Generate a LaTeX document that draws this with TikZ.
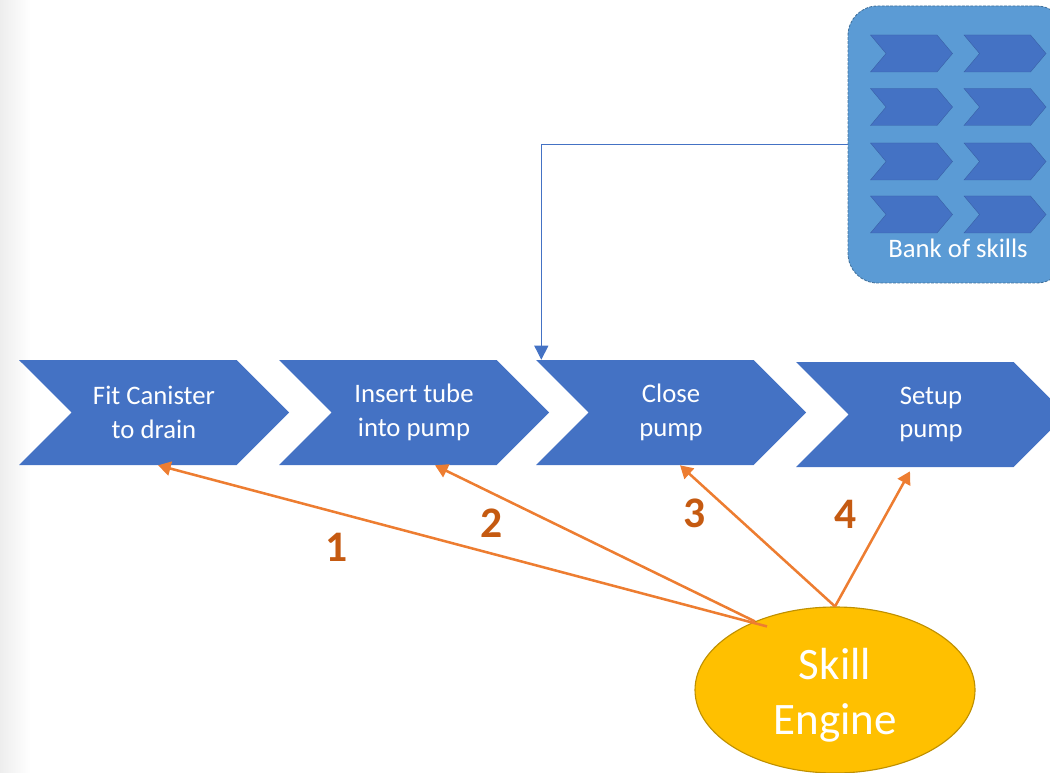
\documentclass[tikz,border=0pt]{standalone}
\usepackage{fontspec}
\setmainfont{Carlito}
\usetikzlibrary{shapes.symbols,shapes.geometric,arrows.meta}
\definecolor{chevblue}{HTML}{4472C4}
\definecolor{bankblue}{HTML}{5B9BD5}
\definecolor{bankline}{HTML}{41719C}
\definecolor{orangeline}{HTML}{ED7D31}
\definecolor{numorange}{HTML}{C55A11}
\definecolor{enginefill}{HTML}{FFC000}
\definecolor{engineline}{HTML}{BF9000}

\begin{document}
\begin{tikzpicture}[x=0.025cm,y=-0.025cm]
	\tikzset{
	stage/.style={signal, signal from=west, signal to=east, signal pointer angle=90, fill=chevblue, text=white, align=center, minimum width=270*0.025cm, minimum height=105*0.025cm, inner sep=0pt, font=\fontsize{19}{24}\selectfont},
	skill/.style={signal, signal from=west, signal to=east, signal pointer angle=100, fill=chevblue, draw=chevblue!85!black, line width=0.3pt, minimum width=82*0.025cm, minimum height=37*0.025cm, inner sep=0pt},
	pick/.style={-{Triangle[length=9pt,width=10pt]}, orangeline, line width=1.8pt},
	flow/.style={-{Triangle[length=10pt,width=10pt]}, chevblue, line width=0.7pt},
	num/.style={numorange, font=\fontsize{31}{36}\selectfont\bfseries}}

	\def\pix{0.025cm}

	\useasboundingbox (0,0) rectangle (1050,773);
	\clip (0,0) rectangle (1050,773);
	\shade[left color=black!7, right color=white] (0,0) rectangle (30,773);

	% procedure
	\node (fit) [stage] at (154,412.5) {Fit Canister\\to drain};
	\node (insert) [stage] at (414,412.5) {Insert tube\\into pump};
	\node (close) [stage] at (671,412.5) {Close\\pump};
	\node (setup) [stage] at (931,414.5) {Setup\\pump};

	% bank
	\node (bank) [rectangle, rounded corners=21pt, fill=bankblue, draw=bankline, dash pattern=on 2pt off 1pt, line width=0.6pt, minimum width=218*\pix, minimum height=277*\pix] at (957,144.5) {};
	\foreach \col/\cx in {1/911.5, 2/1005}
		\foreach \row/\cy in {1/53.5, 2/107, 3/161.5, 4/214.5}
			\node (skill-\row-\col) [skill] at (\cx,\cy) {};
	\node (banklabel) [text=white, font=\fontsize{19}{24}\selectfont] at (958,248) {Bank of skills};

	\draw[flow] (bank.west) -| ([xshift=6*\pix]close.north west);

	% engine
	\node (engine) [ellipse, fill=enginefill, draw=engineline, line width=0.8pt, minimum width=280*\pix, minimum height=166*\pix, inner sep=0pt, text=white, align=center, font=\fontsize{32}{40}\selectfont] at (835,690) {\raisebox{-0.14cm}[\height][\depth]{\begin{tabular}{@{}c@{}}Skill\\[-1pt]Engine\end{tabular}}};

	\draw[pick] ([shift={(-68,20)}]engine.north) -- ([xshift=4*\pix]fit.south);
	\draw[pick] ([shift={(-80,15)}]engine.north) -- ([xshift=21*\pix]insert.south);
	\draw[pick] (engine.north) -- ([xshift=9*\pix]close.south);
	\draw[pick] (engine.north) -- ([xshift=-21*\pix,yshift=-4*\pix]setup.south);

	\node (n1) [num] at (337,547) {1};
	\node (n2) [num] at (492,523) {2};
	\node (n3) [num] at (695,513) {3};
	\node (n4) [num] at (846,514) {4};
\end{tikzpicture}
\end{document}
